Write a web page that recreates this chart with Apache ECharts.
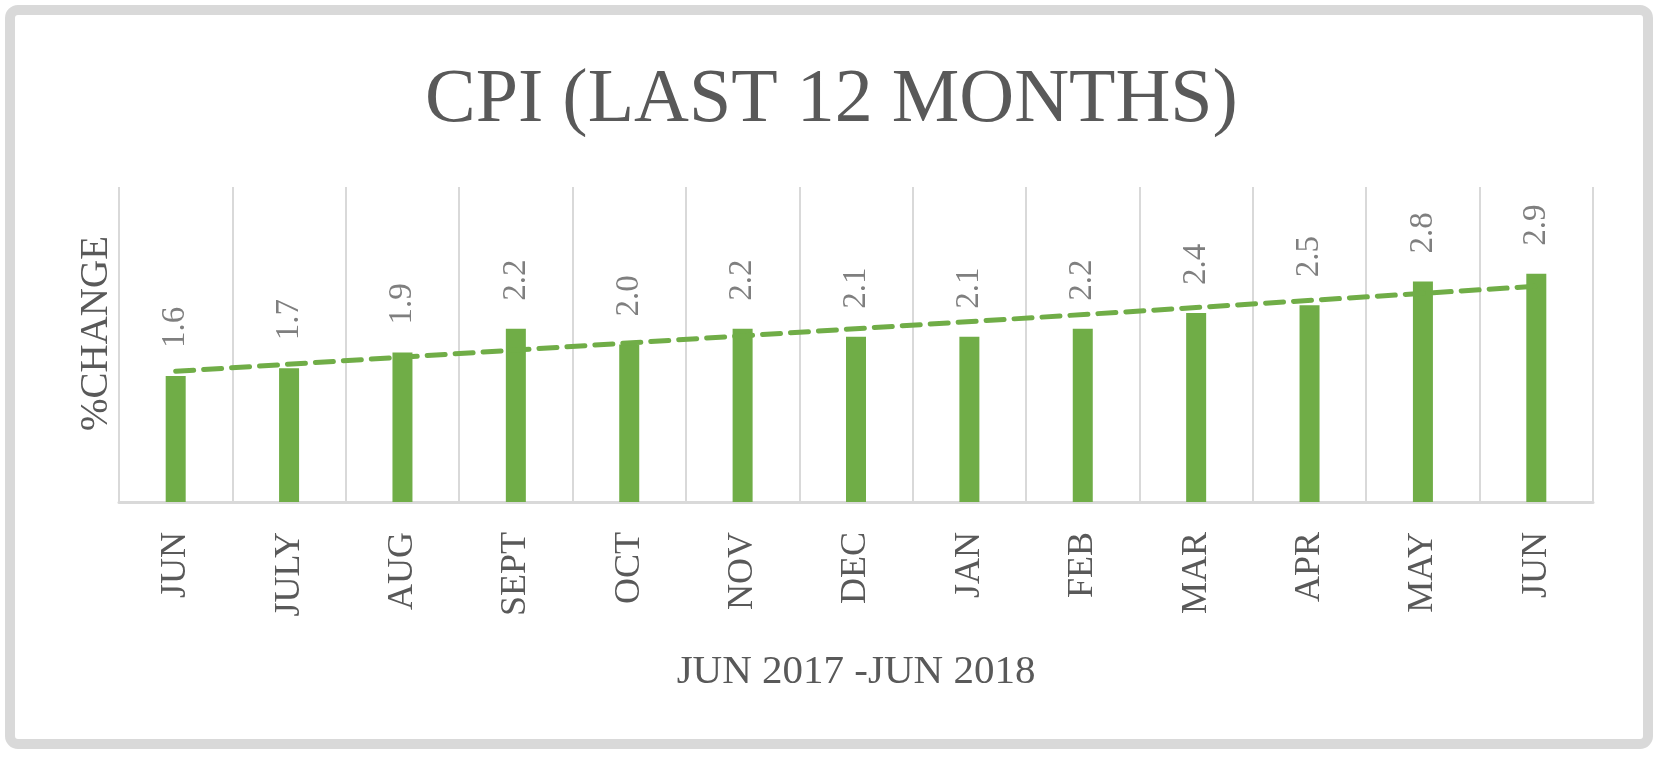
<!DOCTYPE html>
<html lang="en" style="height: 100%">
<head>
  <meta charset="utf-8">
</head>
<body style="height: 100%; margin: 0">
  <div id="container" style="width: 1663px; height: 778px"></div>

  <script type="text/javascript" src="https://fastly.jsdelivr.net/npm/echarts@6/dist/echarts.min.js"></script>
  <script type="text/javascript">
    // categories: JUN 2017 - JUN 2018
    const months = ['JUN', 'JULY', 'AUG', 'SEPT', 'OCT', 'NOV', 'DEC', 'JAN', 'FEB', 'MAR', 'APR', 'MAY', 'JUN'];
    // CPI % change
    const cpiValues = [1.6, 1.7, 1.9, 2.2, 2.0, 2.2, 2.1, 2.1, 2.2, 2.4, 2.5, 2.8, 2.9];
    // linear trendline, end points
    const trendValues = [1.66, null, null, null, null, null, null, null, null, null, null, null, 2.74];

    const serif = '"Liberation Serif", "Times New Roman", serif';
    const green = '#70ad47';

    var dom = document.getElementById('container');
    var myChart = echarts.init(dom, null, { renderer: 'canvas' });

    var option = {
      backgroundColor: '#ffffff',
      animation: false,
      graphic: [
        {
          type: 'rect',
          left: 5,
          top: 5,
          shape: { width: 1638, height: 734, r: 8 },
          style: { fill: 'none', stroke: '#d9d9d9', lineWidth: 10 },
          silent: true
        }
      ],
      title: {
        text: 'CPI (LAST 12 MONTHS)',
        left: 'center',
        top: 58,
        textStyle: {
          fontFamily: serif,
          fontSize: 76,
          fontWeight: 'normal',
          color: '#595959'
        }
      },
      grid: {
        left: 119,
        right: 70,
        top: 187,
        bottom: 276
      },
      xAxis: {
        type: 'category',
        data: months,
        name: 'JUN 2017 -JUN 2018',
        nameLocation: 'middle',
        nameGap: 150,
        nameTextStyle: {
          fontFamily: serif,
          fontSize: 41,
          color: '#595959'
        },
        axisLine: { lineStyle: { color: '#d9d9d9', width: 3 } },
        axisTick: { show: false },
        splitLine: { show: true, lineStyle: { color: '#d9d9d9', width: 2 } },
        axisLabel: {
          rotate: 90,
          margin: 30,
          interval: 0,
          fontFamily: serif,
          fontSize: 36,
          color: '#595959'
        }
      },
      yAxis: {
        type: 'value',
        min: 0,
        max: 4,
        interval: 1,
        name: '%CHANGE',
        nameLocation: 'middle',
        nameGap: 3,
        nameRotate: 90,
        nameTextStyle: {
          fontFamily: serif,
          fontSize: 39,
          color: '#595959',
          padding: [0, 0, 0, 22]
        },
        axisLine: { show: false },
        axisTick: { show: false },
        axisLabel: { show: false },
        splitLine: { show: false }
      },
      series: [
        {
          type: 'line',
          data: trendValues,
          connectNulls: true,
          symbol: 'none',
          silent: true,
          lineStyle: {
            color: green,
            width: 5,
            type: [18, 10],
            cap: 'round'
          }
        },
        {
          type: 'bar',
          data: cpiValues,
          barWidth: 20,
          itemStyle: { color: green },
          label: {
            show: true,
            position: 'top',
            rotate: 90,
            align: 'left',
            verticalAlign: 'middle',
            distance: 28,
            formatter: function (p) {
              return p.value.toFixed(1);
            },
            fontFamily: serif,
            fontSize: 33,
            color: '#7f7f7f'
          }
        }
      ]
    };

    myChart.setOption(option);
    window.addEventListener('resize', myChart.resize);
  </script>
</body>
</html>
